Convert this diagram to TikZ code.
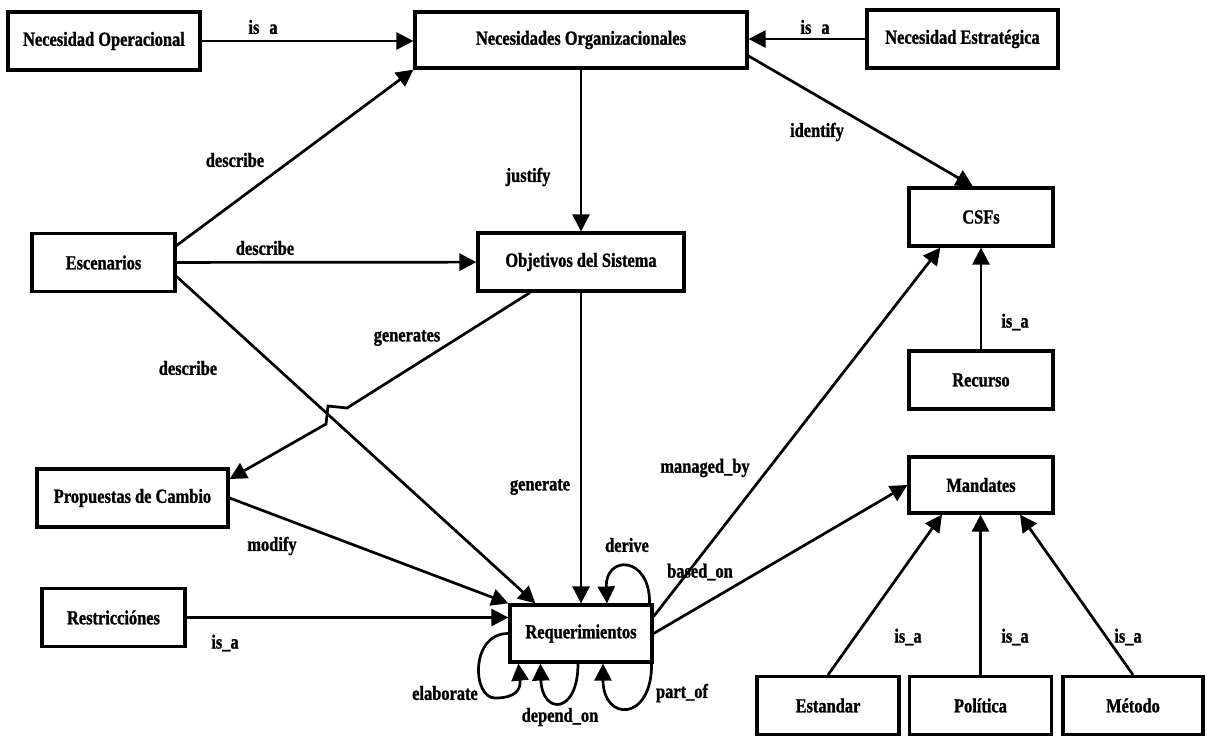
\documentclass[tikz,border=0pt]{standalone}
\usepackage{fontspec}
\setmainfont{Liberation Serif}[FakeStretch=0.82,BoldFeatures={FakeBold=1.2}]
\usetikzlibrary{arrows.meta,calc}
\begin{document}
\begin{tikzpicture}[x=0.5pt,y=-0.5pt,
    box/.style={draw,line width=1.6pt,minimum height=29pt,minimum width=71.5pt,inner sep=0pt,font=\bfseries},
    lbl/.style={inner sep=0pt,font=\bfseries},
    arr/.style={-{Triangle[length=8.5pt,width=8.5pt]},line width=1.35pt}]
  \useasboundingbox (0,0) rectangle (1207,736);
  \node[box,minimum width=96pt] (nop) at (104,41) {Necesidad Operacional};
  \node[box,minimum width=166pt,minimum height=28pt] (norg) at (581,40) {Necesidades Organizacionales};
  \node[box,minimum width=95.5pt] (nest) at (962.5,39) {Necesidad Estratégica};
  \node[box,minimum width=72pt] (csf) at (981,217) {CSFs};
  \node[box] (esc) at (103.5,262.5) {Escenarios};
  \node[box,minimum width=103pt] (obj) at (581,262) {Objetivos del Sistema};
  \node[box,minimum width=72pt] (rec) at (981,380) {Recurso};
  \node[box,minimum width=95.5pt] (prop) at (132.5,498) {Propuestas de Cambio};
  \node[box,minimum width=72pt,minimum height=28pt] (mand) at (981,485) {Mandates};
  \node[box] (rest) at (113.5,617.5) {Restricciónes};
  \node[box,minimum width=71pt,minimum height=28.5pt] (req) at (581,633.5) {Requerimientos};
  \node[box,minimum width=71pt] (est) at (828,705.5) {Estandar};
  \node[box,minimum width=71pt] (pol) at (980.5,705.5) {Política};
  \node[box,minimum width=70pt] (met) at (1133,705.5) {Método};

  \draw[arr] (nop.east) -- (nop.east -| norg.west);
  \draw[arr] (nest.west) -- (nest.west -| norg.east);
  \draw[arr] ($(esc.east)+(0,-17)$) -- (norg.south west);
  \draw[arr] (esc) -- (obj);
  \draw[arr] ($(esc.east)+(0,14)$) -- ($(req.north west)+(27,0)$);
  \draw[arr] (norg) -- (obj);
  \draw[arr] ($(norg.east)+(0,16)$) -- ($(csf.north)+(-8,0)$);
  \coordinate (j1) at (347,408);
  \coordinate (j2) at (328,406);
  \coordinate (j3) at (326,424);
  \draw[arr] ($(obj.south)+(-51,0)$) -- (j1) -- (j2) -- (j3) -- ($(prop.east)+(0,-19)$);
  \draw[arr] (obj) -- (req);
  \draw[arr] (prop.east) -- (req.north west);
  \draw[arr] (rest.east) -- (rest.east -| req.west);
  \draw[arr] ($(req.east)+(0,-17)$) -- ($(csf.south west)+(33,0)$);
  \draw[arr] (req.east) -- (mand.west);
  \draw[arr] (rec) -- (csf);
  \draw[arr] (est.north) -- ($(mand.south)+(-39,0)$);
  \draw[arr] (pol.north) -- (pol.north |- mand.south);
  \draw[arr] (met.north) -- ($(mand.south)+(39,0)$);
  \draw[arr] ($(req.north east)+(-4,0)$) .. controls (650,555) and (605,555) .. ($(req.north)+(26,0)$);
  \draw[arr] (req.west) .. controls (470,633) and (472,698) .. (495,698) .. controls (515,698) and (521,690) .. ($(req.south west)+(10,0)$);
  \draw[arr] ($(req.south)+(-3,0)$) .. controls (578,715) and (542,715) .. ($(req.south west)+(32,0)$);
  \draw[arr] ($(req.south east)+(-2,0)$) .. controls (652,722) and (603,722) .. ($(req.south)+(22,0)$);

  \node[lbl] (isa1) at (263,27) {is\enspace a};
  \node[lbl] (isa2) at (815,27) {is\enspace a};
  \node[lbl] (desc1) at (235,160) {describe};
  \node[lbl] (desc2) at (265,248) {describe};
  \node[lbl] (desc3) at (188,368) {describe};
  \node[lbl] (just) at (528,177) {justify};
  \node[lbl] (ident) at (817,132) {identify};
  \node[lbl] (gens) at (407,338) {generates};
  \node[lbl] (gen) at (540,487) {generate};
  \node[lbl] (modif) at (272,546) {modify};
  \node[lbl] (isa3) at (225,643) {is\_a};
  \node[lbl] (manag) at (705,468) {managed\_by};
  \node[lbl] (based) at (700,572) {based\_on};
  \node[lbl] (deriv) at (627,545) {derive};
  \node[lbl] (elab) at (445,693) {elaborate};
  \node[lbl] (depon) at (560,717) {depend\_on};
  \node[lbl] (partof) at (682,693) {part\_of};
  \node[lbl] (isa4) at (1015,322) {is\_a};
  \node[lbl] (isa5) at (908,637) {is\_a};
  \node[lbl] (isa6) at (1015,637) {is\_a};
  \node[lbl] (isa7) at (1128,637) {is\_a};
\end{tikzpicture}
\end{document}
